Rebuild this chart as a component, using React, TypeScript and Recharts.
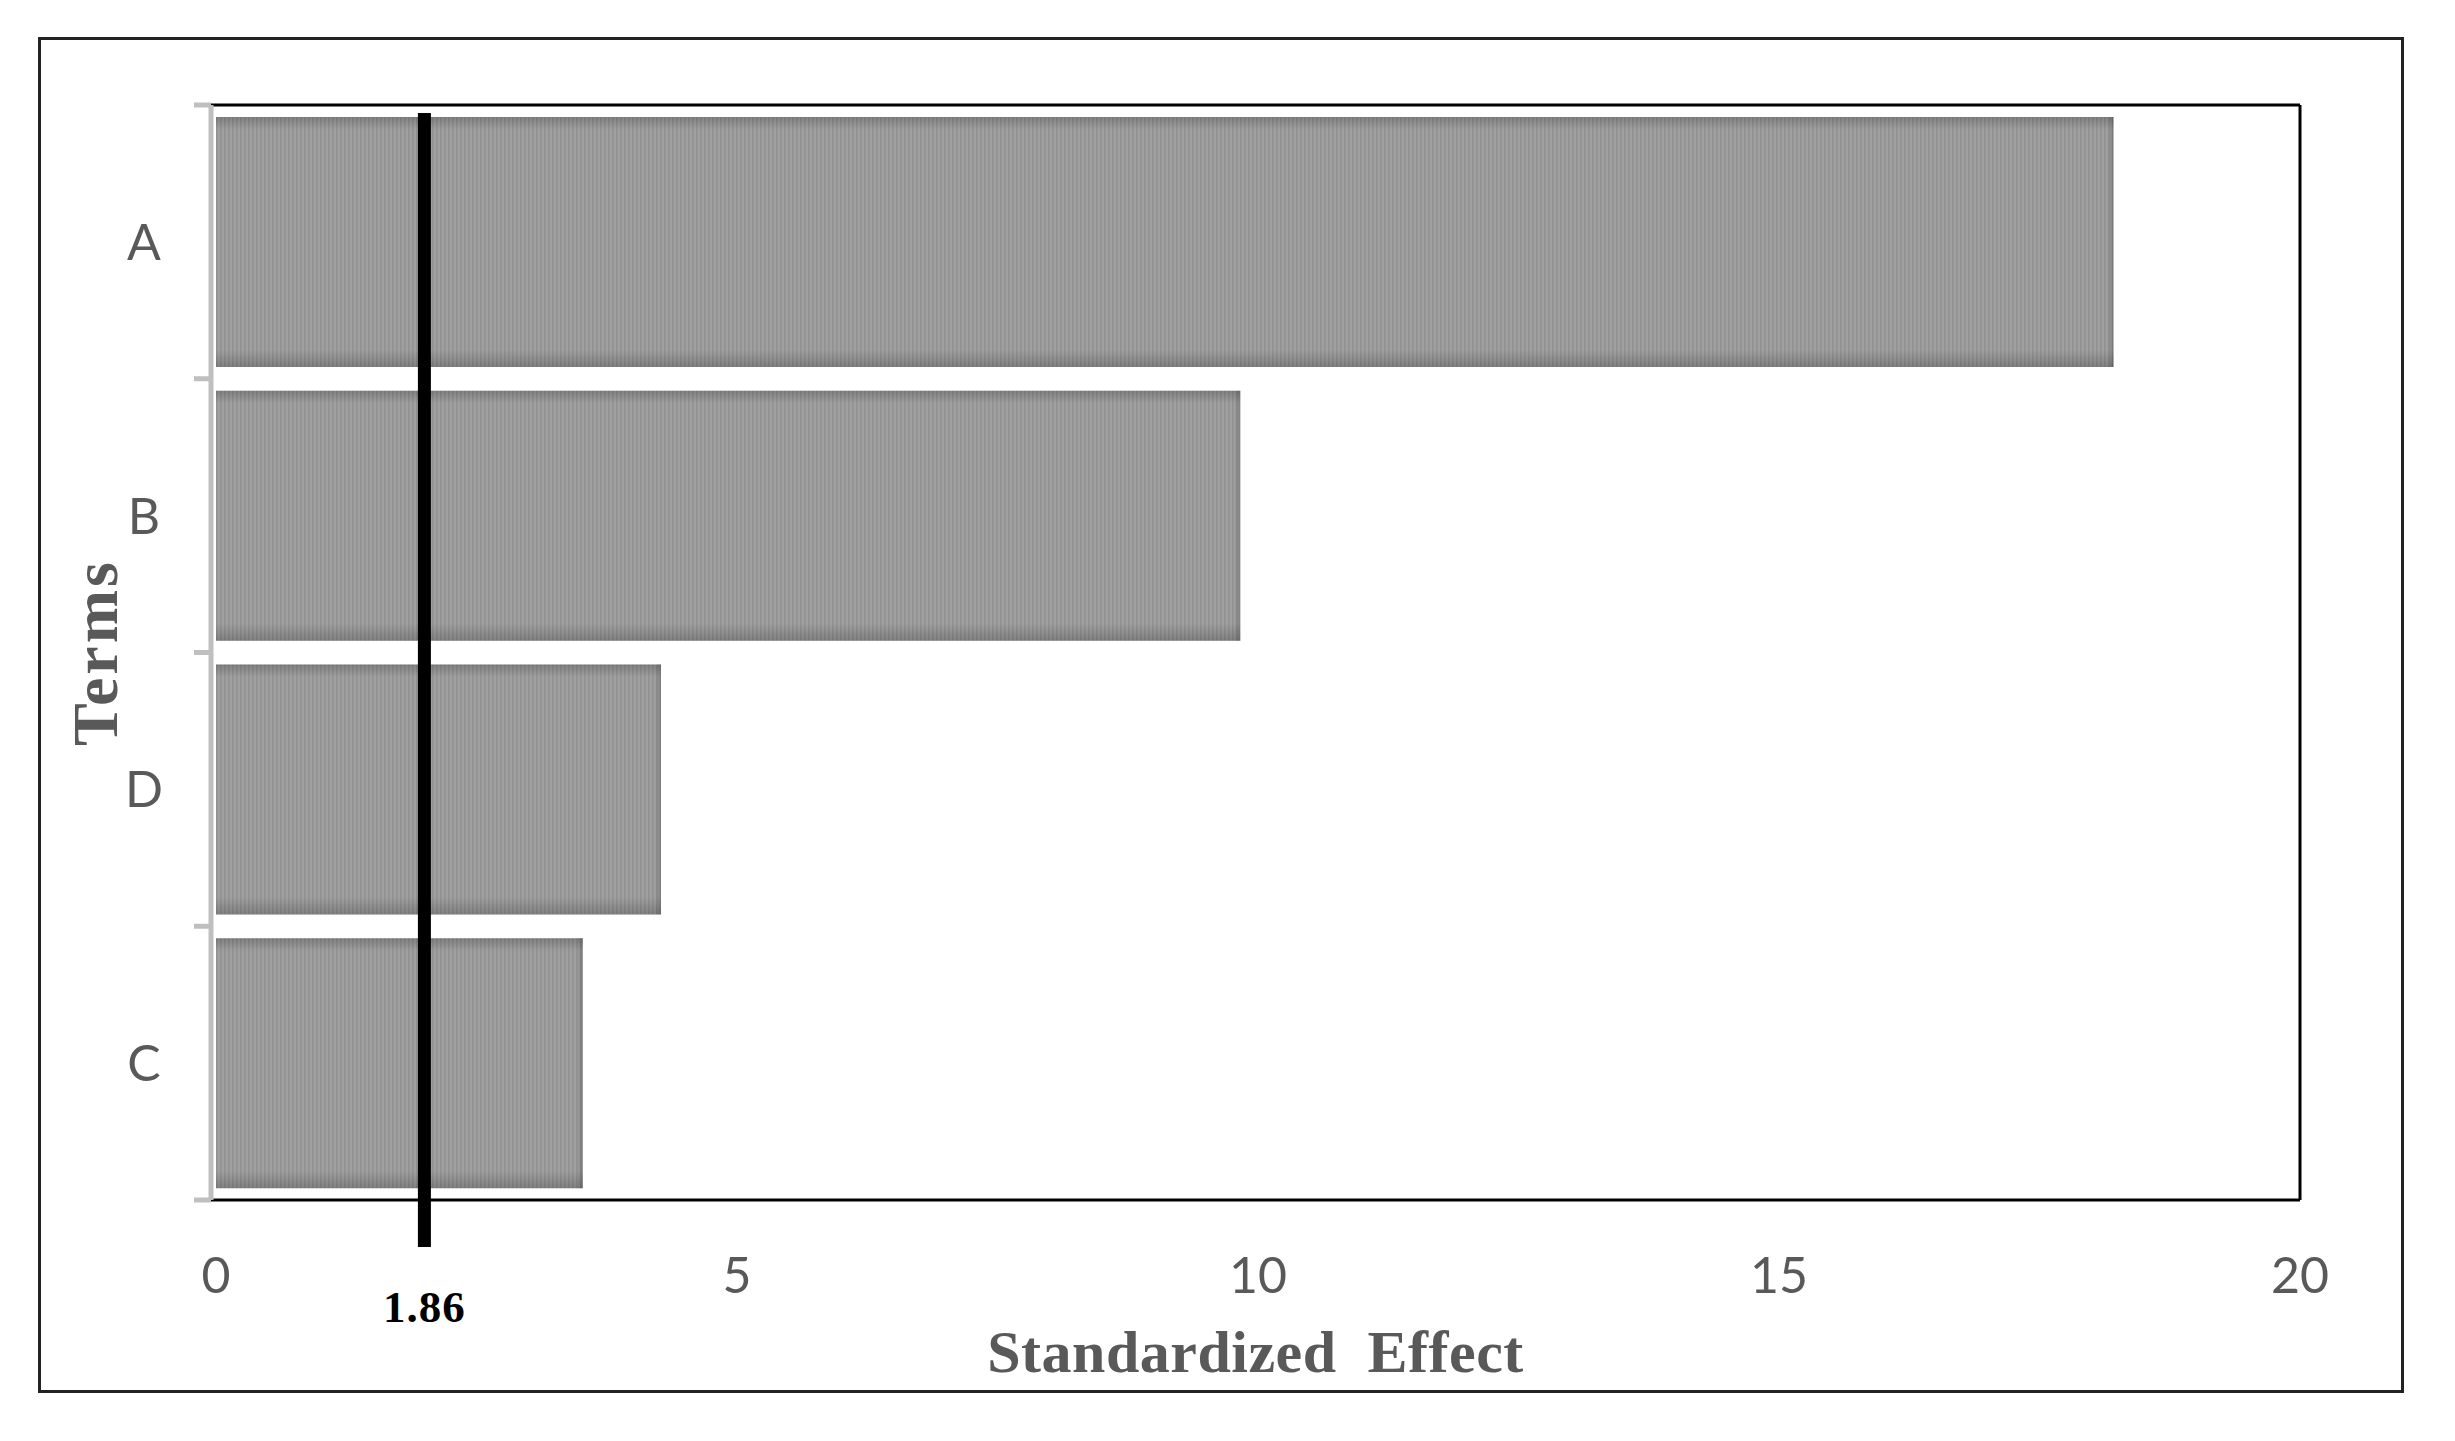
import React from 'react';
import { BarChart, Bar, XAxis, YAxis, ReferenceLine, CartesianGrid } from 'recharts';

// ---- data ----
const terms = ['A', 'B', 'D', 'C'];
const effects = [18.21, 9.83, 4.27, 3.52];
const xTicks = [0, 5, 10, 15, 20];
const criticalX = 2.0; // drawn position of the significance line
const criticalLabel = '1.86';
const xTitle = 'Standardized  Effect';
const yTitle = 'Terms';

const data = terms.map((t, i) => ({ term: t, effect: effects[i] }));

const W = 2455;
const H = 1441;
const GRAY_TEXT = '#595959';
const SANS = 'Lato, "Open Sans", sans-serif';
const SERIF = '"Liberation Serif", "DejaVu Serif", serif';

const YTick = (props: any) => {
  const { x, y, payload, index, visibleTicksCount } = props;
  const off = payload && payload.offset ? payload.offset : 0;
  const last = index === visibleTicksCount - 1;
  return (
    <g>
      <line x1={x - 17} x2={x} y1={y - off} y2={y - off} stroke="#bfbfbf" strokeWidth={5} />
      {last && <line x1={x - 17} x2={x} y1={y + off} y2={y + off} stroke="#bfbfbf" strokeWidth={5} />}
      <text x={x - 67} y={y} dy="0.36em" textAnchor="middle" fill={GRAY_TEXT} fontFamily={SANS} fontSize={50}>
        {payload.value}
      </text>
    </g>
  );
};

const XTick = (props: any) => {
  const { x, y, payload } = props;
  return (
    <text x={x} y={y + 93} textAnchor="middle" fill={GRAY_TEXT} fontFamily={SANS} fontSize={50}>
      {payload.value}
    </text>
  );
};

const BarShape = (props: any) => {
  const { x, y, width, height } = props;
  if (!width || !height) return null;
  return (
    <g>
      <rect x={x} y={y} width={width} height={height} fill="url(#barStripes)" />
      <rect x={x} y={y} width={width} height={height} fill="url(#barEdgeV)" />
      <rect x={x + width - 6} y={y} width={6} height={height} fill="url(#barEdgeR)" />
    </g>
  );
};

const RefShape = (props: any) => {
  const { x1, y1, x2, y2 } = props;
  const top = Math.min(y1, y2);
  const bottom = Math.max(y1, y2);
  return (
    <g>
      <line x1={x1} x2={x2} y1={top + 8} y2={bottom + 47} stroke="#000" strokeWidth={13} />
      <text
        x={x1}
        y={bottom + 122}
        textAnchor="middle"
        fill="#000"
        fontFamily={SERIF}
        fontWeight="bold"
        fontSize={45}
        letterSpacing={1}
      >
        {criticalLabel}
      </text>
    </g>
  );
};

const XTitle = (props: any) => {
  const vb = props.viewBox || { x: 0, y: 0, width: 0, height: 0 };
  return (
    <text
      x={vb.x + vb.width / 2}
      y={vb.y + 172}
      textAnchor="middle"
      fill={GRAY_TEXT}
      fontFamily={SERIF}
      fontWeight="bold"
      fontSize={60}
      letterSpacing={0.5}
      style={{ whiteSpace: 'pre' }}
    >
      {xTitle}
    </text>
  );
};

const YTitle = (props: any) => {
  const vb = props.viewBox || { x: 0, y: 0, width: 0, height: 0 };
  const cx = vb.x + 4;
  const cy = vb.y + vb.height / 2;
  return (
    <text
      x={cx}
      y={cy}
      transform={`rotate(-90, ${cx}, ${cy})`}
      textAnchor="middle"
      dominantBaseline="central"
      fill={GRAY_TEXT}
      fontFamily={SERIF}
      fontWeight="bold"
      fontSize={64}
      letterSpacing={3}
    >
      {yTitle}
    </text>
  );
};

export default function App() {
  return (
    <div style={{ position: 'absolute', left: 0, top: 0, width: W, height: H, background: '#fff' }}>
      <svg width={0} height={0} style={{ position: 'absolute' }}>
        <defs>
          <pattern id="barStripes" patternUnits="userSpaceOnUse" width={4} height={10}>
            <rect x={0} y={0} width={4} height={10} fill="#a0a0a0" />
            <rect x={0} y={0} width={1.6} height={10} fill="#919191" />
          </pattern>
          <linearGradient id="barEdgeV" x1="0" y1="0" x2="0" y2="1">
            <stop offset="0%" stopColor="#000" stopOpacity={0.2} />
            <stop offset="5%" stopColor="#000" stopOpacity={0} />
            <stop offset="93%" stopColor="#000" stopOpacity={0} />
            <stop offset="100%" stopColor="#000" stopOpacity={0.2} />
          </linearGradient>
          <linearGradient id="barEdgeR" x1="0" y1="0" x2="1" y2="0">
            <stop offset="0%" stopColor="#000" stopOpacity={0} />
            <stop offset="100%" stopColor="#000" stopOpacity={0.2} />
          </linearGradient>
        </defs>
      </svg>
      <div
        style={{
          position: 'absolute',
          left: 38,
          top: 37,
          width: 2366,
          height: 1356,
          border: '3px solid #222',
          boxSizing: 'border-box',
        }}
      />
      <div style={{ position: 'absolute', left: 0, top: 0 }}>
        <BarChart
          width={W}
          height={H}
          data={data}
          layout="vertical"
          margin={{ top: 105, right: 155, bottom: 141, left: 91 }}
          barCategoryGap={12}
        >
          <CartesianGrid
            stroke="#000"
            strokeWidth={3}
            horizontalCoordinatesGenerator={(p: any) => [p.offset.top]}
            verticalCoordinatesGenerator={(p: any) => [p.offset.left + p.offset.width]}
          />
          <XAxis
            type="number"
            domain={[0, 20]}
            ticks={xTicks}
            padding={{ left: 5, right: 0 }}
            height={100}
            tickLine={false}
            tickSize={0}
            tickMargin={0}
            axisLine={{ stroke: '#000', strokeWidth: 3 }}
            tick={<XTick />}
            label={(p: any) => <XTitle {...p} />}
          />
          <Bar dataKey="effect" isAnimationActive={false} shape={<BarShape />} />
          <ReferenceLine x={criticalX} shape={<RefShape />} ifOverflow="visible" />
          <YAxis
            type="category"
            dataKey="term"
            width={120}
            tickLine={false}
            tickSize={0}
            tickMargin={0}
            axisLine={{ stroke: '#bfbfbf', strokeWidth: 5 }}
            tick={<YTick />}
            label={(p: any) => <YTitle {...p} />}
          />
        </BarChart>
      </div>
    </div>
  );
}
